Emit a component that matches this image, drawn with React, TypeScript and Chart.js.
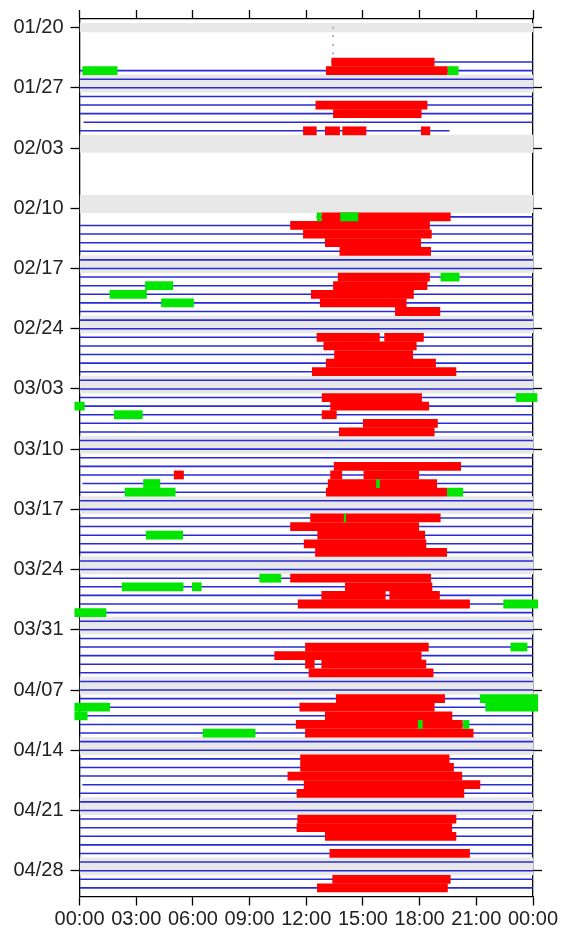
import React, { useEffect, useRef } from 'react';
import { Chart, registerables } from 'chart.js';
Chart.register(...registerables);

// Day index 0 = 01/20, one row per day; hours on the x axis.
const yTickLabels = ['01/20', '01/27', '02/03', '02/10', '02/17', '02/24', '03/03', '03/10', '03/17', '03/24', '03/31', '04/07', '04/14', '04/21', '04/28'];
const xTickLabels = ['00:00', '03:00', '06:00', '09:00', '12:00', '15:00', '18:00', '21:00', '00:00'];

const weekendDays = [0, 6, 7, 13, 14, 20, 21, 27, 28, 34, 35, 41, 42, 48, 49, 55, 56, 62, 63, 69, 70, 76, 77, 83, 84, 90, 91, 97, 98];

const fullLineDays = [5, 6, 7, 8, 9, 10,
  23, 24, 25, 26, 27, 28, 29, 30, 31, 32, 33, 34, 35, 36, 37, 38, 39, 40, 41, 42, 43, 44, 45, 46, 47, 48, 49, 50, 51, 52,
  54, 55, 56, 57, 58, 59, 60, 61, 62, 63, 64, 65, 66, 67, 68, 69, 70, 71, 72, 73, 74, 75, 76, 77, 78, 79, 80, 81, 82, 83, 84, 85, 86, 87,
  89, 90, 91, 92, 93, 94, 95, 96, 97, 98, 99, 100];

const partialLines: [number, number, number][] = [
  [4, 13.33, 24], [11, 0.21, 24], [12, 0, 19.58], [22, 12.55, 24], [53, 0.15, 24], [88, 0.15, 24],
];

const startMarks: [number, number][] = [[0, 13.42], [1, 13.42], [2, 13.42], [3, 13.42]];

const redSpans: [number, number, number][] = [
  [4, 13.33, 18.79], [5, 13.04, 19.49], [9, 12.49, 18.41], [10, 13.42, 18.10],
  [12, 11.83, 12.55], [12, 12.99, 13.78], [12, 13.91, 15.18], [12, 18.07, 18.56],
  [22, 12.80, 19.64], [23, 11.15, 18.54], [24, 11.83, 18.64], [25, 12.99, 18.07], [26, 13.76, 18.60],
  [29, 13.67, 18.54], [30, 13.42, 18.41], [31, 12.25, 17.69], [32, 12.72, 17.31], [33, 16.70, 19.09],
  [36, 12.55, 15.89], [36, 16.13, 18.22], [37, 12.91, 17.84], [38, 13.48, 17.65], [39, 13.04, 18.86], [40, 12.30, 19.94],
  [43, 12.82, 18.12], [44, 13.27, 18.50], [45, 12.82, 13.61], [46, 15.00, 18.96], [47, 13.73, 18.79],
  [51, 13.46, 20.19], [52, 4.99, 5.52], [52, 13.27, 13.90], [52, 15.03, 17.97], [53, 13.14, 18.92], [54, 13.04, 19.45],
  [57, 12.21, 19.11], [58, 11.15, 17.97], [59, 12.59, 18.29], [60, 11.87, 18.35], [61, 12.47, 19.45],
  [64, 11.15, 18.60], [65, 14.05, 18.67], [66, 12.80, 16.20], [66, 16.40, 19.07], [67, 11.55, 20.66],
  [72, 11.94, 18.48], [73, 10.31, 18.10], [74, 11.94, 12.44], [74, 12.80, 18.35], [75, 12.13, 18.73],
  [78, 13.57, 19.34], [79, 11.64, 18.79], [80, 12.99, 19.73], [81, 11.45, 20.28], [82, 11.94, 20.85],
  [85, 11.68, 19.58], [86, 11.68, 19.81], [87, 11.01, 20.25], [88, 11.87, 21.21], [89, 11.49, 20.36],
  [92, 11.53, 19.94], [93, 11.49, 19.72], [94, 12.99, 19.94], [96, 13.23, 20.66],
  [99, 13.38, 19.64], [100, 12.57, 19.49],
];

const greenSpans: [number, number, number][] = [
  [5, 0.15, 2.01], [5, 19.49, 20.06], [22, 12.55, 12.80], [22, 13.80, 14.75],
  [29, 19.11, 20.11], [30, 3.47, 4.95], [31, 1.59, 3.56], [32, 4.32, 6.05],
  [43, 23.09, 24.23], [44, -0.27, 0.27], [45, 1.82, 3.34],
  [53, 3.37, 4.27], [53, 15.70, 15.89], [54, 2.39, 5.08], [54, 19.45, 20.30],
  [57, 13.99, 14.10], [59, 3.51, 5.48], [64, 9.52, 10.67], [65, 2.24, 5.50], [65, 5.95, 6.46],
  [67, 22.43, 24.27], [68, -0.27, 1.42], [72, 22.81, 23.70],
  [78, 21.19, 24.27], [79, -0.27, 1.61], [79, 21.48, 24.27], [80, -0.27, 0.42],
  [81, 17.91, 18.16], [81, 20.30, 20.63], [82, 6.52, 9.31],
];

const FONT = { family: '"Liberation Sans", Arial, Helvetica, sans-serif', size: 20 };

export default function App() {
  const ref = useRef<HTMLCanvasElement>(null);
  useEffect(() => {
    const canvas = ref.current;
    if (!canvas) return;
    const toBars = (arr: [number, number, number][]) => arr.map(([d, s, e]) => ({ x: [s, e], y: d }));
    const lineData = [
      ...fullLineDays.map((d) => ({ x: [0, 24], y: d })),
      ...toBars(partialLines),
    ];
    const common: any = { grouped: false, categoryPercentage: 1, borderWidth: 0, borderSkipped: false, clip: false };
    const yTicksBuild = (axis: any) => {
      axis.ticks = yTickLabels.map((_, i) => ({ value: i * 7 }));
    };
    const gridOpts = { offset: false, drawOnChartArea: false, drawTicks: true, tickLength: 9, color: '#000', tickColor: '#000', tickWidth: 1.3 };
    const borderOpts = { display: true, color: '#000', width: 1.3 };
    const chart = new Chart(canvas, {
      type: 'bar',
      data: {
        datasets: [
          { ...common, label: 'weekend', data: weekendDays.map((d) => ({ x: [0, 24], y: d })), backgroundColor: '#e8e8e8', barPercentage: 1, order: 4, clip: true },
          { ...common, label: 'day', data: lineData, backgroundColor: '#2a2ad8', barPercentage: 0.18, order: 3 },
          { ...common, label: 'red', data: toBars(redSpans), backgroundColor: '#ff0000', barPercentage: 1.02, order: 2 },
          { ...common, label: 'green', data: toBars(greenSpans), backgroundColor: '#00e600', barPercentage: 1.02, order: 1 },
          { ...common, label: 'start', data: startMarks.map(([d, h]) => ({ x: [h - 0.04, h + 0.04], y: d })), backgroundColor: '#8c8cb0', barPercentage: 0.2, order: 0 },
        ] as any,
      },
      options: {
        responsive: false,
        animation: false,
        events: [],
        indexAxis: 'y',
        layout: { padding: { left: 6.5, right: 20, top: 5, bottom: 2.5 } },
        plugins: { legend: { display: false }, tooltip: { enabled: false } },
        scales: {
          x: {
            type: 'linear', position: 'bottom', min: 0, max: 24, offset: false,
            ticks: { stepSize: 3, autoSkip: false, maxRotation: 0, minRotation: 0, padding: 2, color: '#222', font: FONT, callback: (_v: any, i: number) => xTickLabels[i] },
            grid: gridOpts, border: borderOpts,
          },
          x2: {
            type: 'linear', position: 'top', min: 0, max: 24, offset: false,
            ticks: { stepSize: 3, display: false },
            grid: gridOpts, border: borderOpts,
          },
          y: {
            type: 'linear', position: 'left', min: -1, max: 101, reverse: true, offset: false,
            afterBuildTicks: yTicksBuild,
            ticks: { padding: 7, color: '#222', font: FONT, autoSkip: false, callback: (_v: any, i: number) => yTickLabels[i] },
            grid: gridOpts, border: borderOpts,
          },
          y2: {
            type: 'linear', position: 'right', min: -1, max: 101, reverse: true, offset: false,
            afterBuildTicks: yTicksBuild,
            ticks: { display: false },
            grid: gridOpts, border: borderOpts,
          },
        } as any,
      },
    });
    return () => chart.destroy();
  }, []);
  return (
    <div style={{ position: 'fixed', left: 0, top: 0, width: 562, height: 936, background: '#fff' }}>
      <canvas ref={ref} width={562} height={936} style={{ display: 'block' }} />
    </div>
  );
}
